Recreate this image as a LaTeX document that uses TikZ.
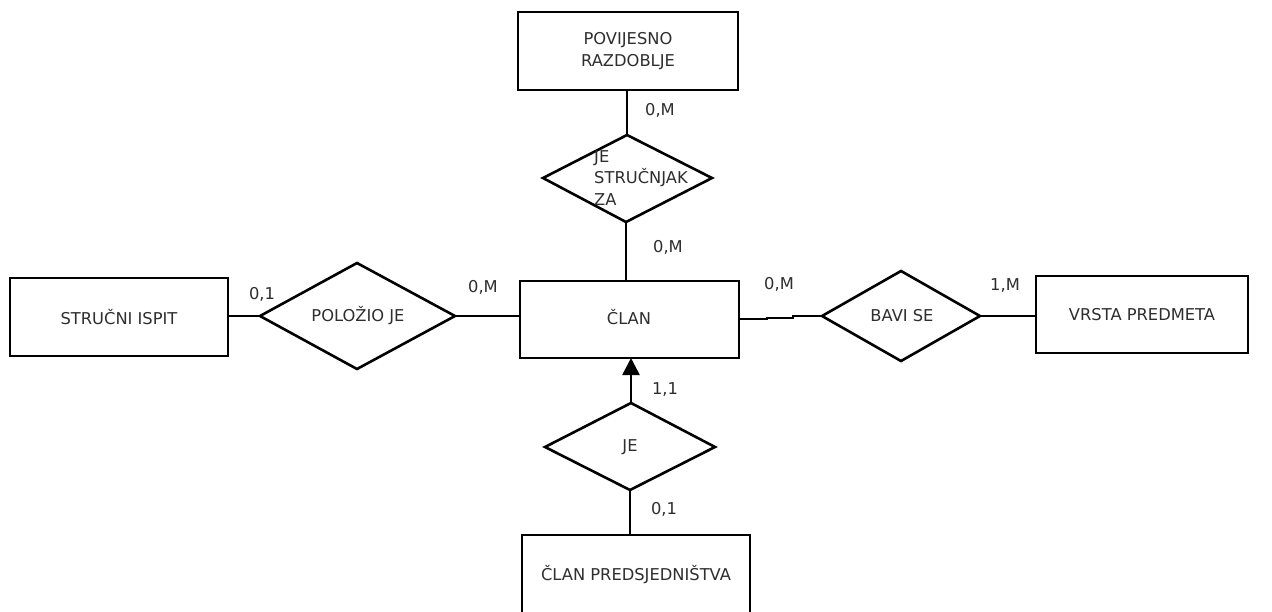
\documentclass[tikz,border=0pt]{standalone}
\usepackage{fontspec}
\setmainfont{DejaVu Sans}
\usetikzlibrary{arrows.meta}
\definecolor{txt}{gray}{0.18}
\begin{document}
\begin{tikzpicture}[x=1pt,y=-1pt,
  ent/.style={draw=black,line width=2.6pt,inner sep=0pt,fill=white},
  rel/.style={draw=black,line width=2.6pt,inner sep=0pt},
  lbl/.style={text=txt,font=\fontsize{16.3}{21.5}\selectfont,inner sep=0pt},
  card/.style={text=txt,font=\fontsize{16.3}{21.5}\selectfont,inner sep=0pt},
  conn/.style={line width=2.6pt}]
\useasboundingbox[fill=white] (0,0) rectangle (1272,611);
% entities
\draw[ent] (518,12) rectangle (738,90);
\node[lbl,align=center] (pov) at (628,51) {POVIJESNO\\RAZDOBLJE};
\coordinate (povS) at (627,90);
\draw[ent] (520,281) rectangle (739,358);
\node[lbl] (clan) at (629,317) {ČLAN};
\coordinate (clanN) at (626,281);
\coordinate (clanS) at (631,358);
\coordinate (clanW) at (520,316);
\coordinate (clanE) at (739,319);
\draw[ent] (10,278) rectangle (228,356);
\node[lbl] (isp) at (119,317) {STRUČNI ISPIT};
\coordinate (ispE) at (228,316);
\draw[ent] (1036,276) rectangle (1248,353);
\node[lbl] (vrs) at (1142,315) {VRSTA PREDMETA};
\coordinate (vrsW) at (1036,316);
\draw[ent] (522,535) rectangle (750,620);
\node[lbl] (pred) at (636,575) {ČLAN PREDSJEDNIŠTVA};
\coordinate (predN) at (630,535);
% relationships
\draw[rel] (543,178) coordinate (d1W) -- (627,135) coordinate (d1N) -- (712,178) coordinate (d1E) -- (626,222) coordinate (d1S) -- cycle;
\node[lbl,align=left,anchor=west] (str) at (594,178) {JE\\STRUČNJAK\\ZA};
\draw[rel] (260,316) coordinate (d2W) -- (357,263) coordinate (d2N) -- (455,316) coordinate (d2E) -- (357,369) coordinate (d2S) -- cycle;
\node[lbl] (pol) at (358,316) {POLOŽIO JE};
\draw[rel] (822,316) coordinate (d3W) -- (901,271) coordinate (d3N) -- (980,316) coordinate (d3E) -- (901,361) coordinate (d3S) -- cycle;
\node[lbl] (bav) at (902,316) {BAVI SE};
\draw[rel] (545,447) coordinate (d4W) -- (631,403) coordinate (d4N) -- (715,447) coordinate (d4E) -- (630,490) coordinate (d4S) -- cycle;
\node[lbl] (je) at (630,447) {JE};
% connectors
\draw[conn] (povS) -- (d1N);
\draw[conn] (d1S) -- (clanN);
\draw[conn] (ispE) -- (d2W);
\draw[conn] (d2E) -- (clanW);
\draw[conn] (clanE) -- (767,319) -- (767,318) -- (793,318) -- (793,316) -- (d3W);
\draw[conn] (d3E) -- (vrsW);
\draw[conn,-{Triangle[length=17pt,width=17pt]}] (d4N) -- (clanS);
\draw[conn] (d4S) -- (predN);
% cardinalities
\node[card] (c1) at (660,110) {0,M};
\node[card] (c2) at (668,247) {0,M};
\node[card] (c3) at (262,294) {0,1};
\node[card] (c4) at (483,287) {0,M};
\node[card] (c5) at (779,284) {0,M};
\node[card] (c6) at (1005,285) {1,M};
\node[card] (c7) at (665,389) {1,1};
\node[card] (c8) at (664,509) {0,1};
\end{tikzpicture}
\end{document}
